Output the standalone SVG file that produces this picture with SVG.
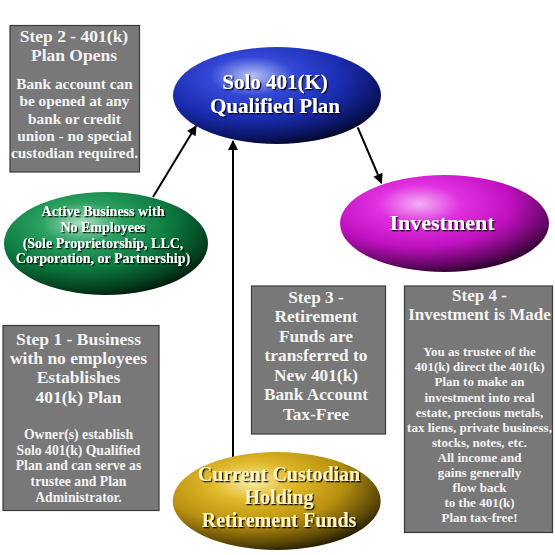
<svg xmlns="http://www.w3.org/2000/svg" width="555" height="555" viewBox="0 0 555 555">
<defs>
<style>
.box{fill:#787878;stroke:#3a3a3a;stroke-width:1.2}
.t{font-family:"Liberation Serif","Times New Roman",serif;font-weight:bold;fill:#f4f4f4;text-anchor:middle}
.et{font-family:"Liberation Serif","Times New Roman",serif;font-weight:bold;fill:#ffffff;text-anchor:middle;filter:url(#sh)}
.gt{font-family:"Liberation Serif","Times New Roman",serif;font-weight:bold;fill:#fff3c0;text-anchor:middle;filter:url(#sh)}
.c{stroke:#000;stroke-width:2;fill:none;marker-end:url(#ah)}
</style>
<marker id="ah" viewBox="0 0 10 10" refX="9" refY="5" markerWidth="5.5" markerHeight="5" orient="auto" markerUnits="strokeWidth">
<path d="M0,0 L10,5 L0,10 Z" fill="#000"/>
</marker>
<filter id="sh" x="-10%" y="-20%" width="130%" height="160%">
<feDropShadow dx="1.3" dy="1.3" stdDeviation="0.6" flood-color="#000" flood-opacity="0.9"/>
</filter>
<radialGradient id="gBlue" cx="0.38" cy="0.3" r="0.8" fx="0.38" fy="0.3">
<stop offset="0" stop-color="#b8c2f4"/>
<stop offset="0.25" stop-color="#3448d8"/>
<stop offset="0.55" stop-color="#1a2cb0"/>
<stop offset="0.8" stop-color="#0a1460"/>
<stop offset="1" stop-color="#000"/>
</radialGradient>
<radialGradient id="gGreen" cx="0.38" cy="0.3" r="0.8" fx="0.38" fy="0.3">
<stop offset="0" stop-color="#a8e0c0"/>
<stop offset="0.25" stop-color="#2aa060"/>
<stop offset="0.55" stop-color="#0c7a40"/>
<stop offset="0.8" stop-color="#04401e"/>
<stop offset="1" stop-color="#000"/>
</radialGradient>
<radialGradient id="gMag" cx="0.38" cy="0.3" r="0.8" fx="0.38" fy="0.3">
<stop offset="0" stop-color="#f4b0f4"/>
<stop offset="0.25" stop-color="#e030e0"/>
<stop offset="0.55" stop-color="#c010c0"/>
<stop offset="0.8" stop-color="#600660"/>
<stop offset="1" stop-color="#000"/>
</radialGradient>
<radialGradient id="gGold" cx="0.38" cy="0.3" r="0.8" fx="0.38" fy="0.3">
<stop offset="0" stop-color="#f8eca8"/>
<stop offset="0.25" stop-color="#e0b828"/>
<stop offset="0.55" stop-color="#b89010"/>
<stop offset="0.8" stop-color="#5a4606"/>
<stop offset="1" stop-color="#000"/>
</radialGradient>
</defs>
<rect width="555" height="555" fill="#fff"/>

<g id="connectors">
<line class="c" x1="153" y1="197" x2="196" y2="126"/>
<line class="c" x1="233" y1="457" x2="233" y2="141"/>
<line class="c" x1="357.7" y1="127.4" x2="381.5" y2="183"/>
</g>

<g id="step2">
<rect class="box" x="10" y="25.5" width="129.5" height="146.5"/>
<text class="t" font-size="17.5" x="74" y="42">Step 2 - 401(k)</text>
<text class="t" font-size="17.5" x="74" y="61">Plan Opens</text>
<text class="t" font-size="15.3" x="74.5" y="89">Bank account can</text>
<text class="t" font-size="15.3" x="74.5" y="106">be opened at any</text>
<text class="t" font-size="15.3" x="74.5" y="123.5">bank or credit</text>
<text class="t" font-size="15.3" x="74.5" y="141">union - no special</text>
<text class="t" font-size="15.3" x="74.5" y="158">custodian required.</text>
</g>

<g id="solo">
<ellipse cx="277" cy="95.5" rx="104" ry="48.5" fill="url(#gBlue)"/>
<text class="et" font-size="21" x="275" y="89">Solo 401(K)</text>
<text class="et" font-size="21" x="275" y="113">Qualified Plan</text>
</g>

<g id="business">
<ellipse cx="106" cy="243.5" rx="102" ry="51.5" fill="url(#gGreen)"/>
<text class="et" font-size="14" x="103" y="216">Active Business with</text>
<text class="et" font-size="14" x="103" y="232">No Employees</text>
<text class="et" font-size="14" x="103" y="248">(Sole Proprietorship, LLC,</text>
<text class="et" font-size="14" x="103" y="263">Corporation, or Partnership)</text>
</g>

<g id="investment">
<ellipse cx="444.5" cy="223.5" rx="104.5" ry="48.5" fill="url(#gMag)"/>
<text class="et" font-size="22" x="442" y="230">Investment</text>
</g>

<g id="step1">
<rect class="box" x="3" y="325.5" width="156" height="185"/>
<text class="t" font-size="17.5" x="78.5" y="344.5">Step 1 - Business</text>
<text class="t" font-size="17.5" x="78.5" y="364">with no employees</text>
<text class="t" font-size="17.5" x="78.5" y="383">Establishes</text>
<text class="t" font-size="17.5" x="78.5" y="403">401(k) Plan</text>
<text class="t" font-size="13.7" x="78.5" y="438.5">Owner(s) establish</text>
<text class="t" font-size="13.7" x="78.5" y="454.5">Solo 401(k) Qualified</text>
<text class="t" font-size="13.7" x="78.5" y="470">Plan and can serve as</text>
<text class="t" font-size="13.7" x="78.5" y="486">trustee and Plan</text>
<text class="t" font-size="13.7" x="78.5" y="502">Administrator.</text>
</g>

<g id="step3">
<rect class="box" x="251.5" y="286" width="134" height="148"/>
<text class="t" font-size="17.3" x="316" y="302.5">Step 3 -</text>
<text class="t" font-size="17.3" x="316" y="322">Retirement</text>
<text class="t" font-size="17.3" x="316" y="341.5">Funds are</text>
<text class="t" font-size="17.3" x="316" y="361">transferred to</text>
<text class="t" font-size="17.3" x="316" y="381">New 401(k)</text>
<text class="t" font-size="17.3" x="316" y="400">Bank Account</text>
<text class="t" font-size="17.3" x="316" y="420">Tax-Free</text>
</g>

<g id="step4">
<rect class="box" x="404.5" y="286" width="148" height="246.5"/>
<text class="t" font-size="17" x="479.5" y="300.5">Step 4 -</text>
<text class="t" font-size="17" x="479.5" y="320">Investment is Made</text>
<text class="t" font-size="13" x="479.5" y="356">You as trustee of the</text>
<text class="t" font-size="13" x="479.5" y="371">401(k) direct the 401(k)</text>
<text class="t" font-size="13" x="479.5" y="386">Plan to make an</text>
<text class="t" font-size="13" x="479.5" y="401.5">investment into real</text>
<text class="t" font-size="13" x="479.5" y="416.5">estate, precious metals,</text>
<text class="t" font-size="13" x="479.5" y="431.5">tax liens, private business,</text>
<text class="t" font-size="13" x="479.5" y="446.5">stocks, notes, etc.</text>
<text class="t" font-size="13" x="479.5" y="461.5">All income and</text>
<text class="t" font-size="13" x="479.5" y="477">gains generally</text>
<text class="t" font-size="13" x="479.5" y="492">flow back</text>
<text class="t" font-size="13" x="479.5" y="507">to the 401(k)</text>
<text class="t" font-size="13" x="479.5" y="522">Plan tax-free!</text>
</g>

<g id="custodian">
<ellipse cx="276.7" cy="501" rx="104" ry="49" fill="url(#gGold)"/>
<text class="gt" font-size="20" x="279" y="480.5">Current Custodian</text>
<text class="gt" font-size="20" x="279" y="503.5">Holding</text>
<text class="gt" font-size="20" x="279" y="526.5">Retirement Funds</text>
</g>
</svg>
